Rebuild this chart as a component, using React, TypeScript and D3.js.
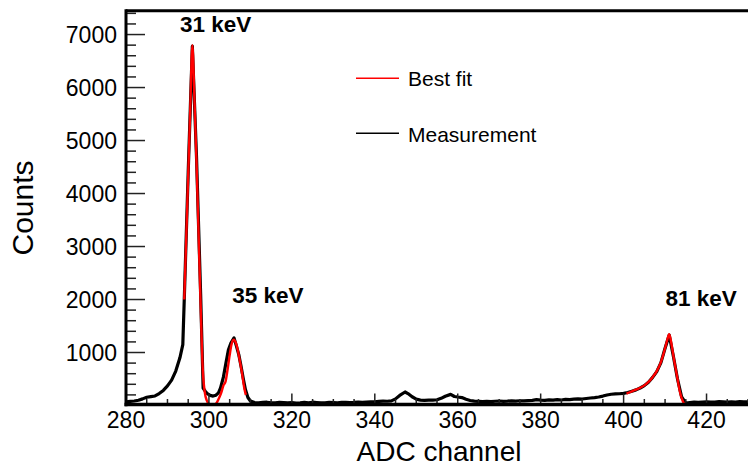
import React from "react";
import * as d3 from "d3";

const measChannels = [
  280, 281, 282, 283, 284, 285, 286, 287, 288, 289, 290, 291, 292, 293, 293.7, 294.05,
  295, 296, 297, 298, 298.6, 299.1, 299.6, 300.3, 301, 301.7, 302.3, 302.8, 303.5, 304.1,
  304.7, 305.3, 306.05, 306.6, 307.2, 307.7, 308.3, 308.8, 309.4, 310,
  311, 312, 313, 314, 315, 316, 317, 318, 319, 320, 321, 322, 323, 324, 325, 326, 327, 328,
  329, 330, 331, 332, 333, 334, 335, 336, 337, 338, 339, 340, 341, 342, 343, 344, 345, 346,
  347.3, 348, 349, 350, 351, 352, 353, 354, 355, 356, 357, 358.3, 359.2, 360, 361, 362, 363,
  364, 365, 366, 367, 368, 369, 370, 371, 372, 373, 374, 375, 376, 377, 378, 379, 380, 381,
  382, 383, 384, 385, 386, 387, 388, 389, 390, 391, 392, 393, 394, 395, 396, 397, 398, 399,
  400, 401, 402, 403, 404, 405, 406, 407, 408, 409, 410, 411, 412, 413, 414, 415, 416, 417,
  418, 419, 420, 421, 422, 423, 424, 425, 426, 427, 428, 429, 430,
];
const measCounts = [
  70, 78, 85, 100, 125, 155, 168, 180, 225, 285, 370, 480, 650, 900, 1150, 2000,
  4400, 6780, 4700, 2100, 330, 270, 225, 190, 178, 195, 240, 330, 540, 800,
  1050, 1180, 1275, 1130, 960, 760, 500, 300, 150, 85,
  55, 48, 58, 62, 52, 50, 58, 54, 48, 55, 46, 52, 60, 50, 62, 56, 48, 52,
  60, 56, 52, 58, 60, 56, 58, 62, 60, 66, 68, 70, 78, 82, 80, 88, 125, 190,
  255, 225, 165, 120, 102, 98, 100, 102, 108, 135, 175, 210, 170, 160, 150, 118, 95,
  82, 78, 75, 78, 72, 80, 85, 78, 82, 88, 84, 90, 86, 92, 96, 110, 100, 96,
  105, 100, 110, 104, 115, 112, 120, 126, 122, 132, 142, 150, 160, 178, 198, 212, 218, 222,
  230, 245, 270, 295, 330, 375, 440, 530, 640, 810, 1080, 1330, 930, 500, 160, 45, 55, 62,
  58, 65, 70, 62, 66, 72, 68, 64, 70, 66, 72, 68, 70,
];

const fitLowChannels = [
  294.05, 294.5, 295, 295.5, 296, 296.5, 297, 297.5, 298, 298.5, 299, 299.5, 300, 300.5, 301,
  301.5, 302, 302.5, 303, 303.5, 304, 304.5, 305, 305.5, 306, 306.5, 307, 307.5, 308, 308.5, 308.9,
];
const fitLowCounts = [
  2000, 3100, 4350, 5600, 6800, 5800, 4600, 3250, 1900, 700, 250, 90, 25, 3, 0,
  20, 70, 150, 250, 380, 450, 680, 950, 1170, 1240, 1180, 1030, 820, 600, 340, 200,
];
const fitHighChannels = [
  400.7, 401.5, 402, 403, 404, 405, 406, 407, 408, 409, 409.5, 410, 410.5, 411, 411.5, 412,
  412.5, 413, 413.5, 414, 414.5, 414.9,
];
const fitHighCounts = [
  225, 250, 268, 298, 335, 380, 445, 535, 650, 820, 940, 1080, 1230, 1345, 1180, 940,
  720, 500, 290, 140, 45, 0,
];

const xTickLabels = [280, 300, 320, 340, 360, 380, 400, 420];
const yTickLabels = [1000, 2000, 3000, 4000, 5000, 6000, 7000];
const peakLabels = ["31 keV", "35 keV", "81 keV"];
const peakLabelChannels = [301.6, 314.2, 418.7];
const peakLabelCounts = [7050, 1940, 1878];
const legendLabels = ["Best fit", "Measurement"];
const xTitle = "ADC channel";
const yTitle = "Counts";

const W = 748;
const H = 468;
const FONT = "'Liberation Sans', Arial, Helvetica, sans-serif";

export default function App() {
  const x = d3.scaleLinear().domain([280, 430]).range([126, 748]);
  const y = d3.scaleLinear().domain([0, 7450]).range([405.5, 10.7]);

  const meas = measChannels.map((c, i) => [c, measCounts[i]] as [number, number]);
  const fitLow = fitLowChannels.map((c, i) => [c, fitLowCounts[i]] as [number, number]);
  const fitHigh = fitHighChannels.map((c, i) => [c, fitHighCounts[i]] as [number, number]);

  const lineLin = d3
    .line<[number, number]>()
    .x((d) => x(d[0]))
    .y((d) => y(d[1]))
    .curve(d3.curveLinear);
  const lineSmooth = d3
    .line<[number, number]>()
    .x((d) => x(d[0]))
    .y((d) => y(d[1]))
    .curve(d3.curveMonotoneX);

  const xMinor = d3.range(280, 431, 5).filter((v) => v % 20 !== 0);
  const yMinor = d3.range(200, 7450, 200).filter((v) => v % 1000 !== 0);

  const axisLeft = x(280);
  const axisBottom = 404.5;

  return (
    <svg
      width={W}
      height={H}
      style={{ position: "absolute", left: 0, top: 0, background: "#fff" }}
      fontFamily={FONT}
    >
      <rect x={0} y={0} width={W} height={H} fill="#fff" />
      <clipPath id="plot">
        <rect x={axisLeft} y={y(7450)} width={W - axisLeft} height={axisBottom - y(7450)} />
      </clipPath>

      <g clipPath="url(#plot)">
        <path d={lineLin(meas) || ""} fill="none" stroke="#000" strokeWidth={3.2} strokeLinejoin="round" />
        <path d={lineSmooth(fitLow) || ""} fill="none" stroke="#ff0000" strokeWidth={2.4} />
        <path d={lineSmooth(fitHigh) || ""} fill="none" stroke="#ff0000" strokeWidth={2.4} />
      </g>

      {/* ticks */}
      {xTickLabels.map((v) => (
        <line key={"xM" + v} x1={x(v)} x2={x(v)} y1={axisBottom} y2={axisBottom - 11} stroke="#222" strokeWidth={1.5} />
      ))}
      {xMinor.map((v) => (
        <line key={"xm" + v} x1={x(v)} x2={x(v)} y1={axisBottom} y2={axisBottom - 5.5} stroke="#222" strokeWidth={1.5} />
      ))}
      {yTickLabels.map((v) => (
        <line key={"yM" + v} x1={axisLeft} x2={axisLeft + 19} y1={y(v)} y2={y(v)} stroke="#222" strokeWidth={1.5} />
      ))}
      {yMinor.map((v) => (
        <line key={"ym" + v} x1={axisLeft} x2={axisLeft + 10} y1={y(v)} y2={y(v)} stroke="#222" strokeWidth={1.5} />
      ))}

      {/* frame */}
      <line x1={axisLeft} x2={W} y1={10.7} y2={10.7} stroke="#000" strokeWidth={3} />
      <line x1={axisLeft} x2={axisLeft} y1={9.2} y2={406.3} stroke="#000" strokeWidth={3} />
      <line x1={axisLeft - 1.5} x2={W} y1={axisBottom} y2={axisBottom} stroke="#000" strokeWidth={3.6} />

      {/* tick labels */}
      {xTickLabels.map((v) => (
        <text key={"xl" + v} x={x(v)} y={428} textAnchor="middle" fontSize={23} fill="#000">
          {v}
        </text>
      ))}
      {yTickLabels.map((v) => (
        <text key={"yl" + v} x={117} y={y(v) + 8.3} textAnchor="end" fontSize={23} fill="#000">
          {v}
        </text>
      ))}

      {/* axis titles */}
      <text x={439} y={461} textAnchor="middle" fontSize={28} fill="#000">
        {xTitle}
      </text>
      <text transform={`translate(33,208) rotate(-90)`} textAnchor="middle" fontSize={30} fill="#000">
        {yTitle}
      </text>

      {/* peak labels */}
      {peakLabels.map((t, i) => (
        <text
          key={t}
          x={x(peakLabelChannels[i])}
          y={y(peakLabelCounts[i])}
          textAnchor="middle"
          fontSize={22.5}
          fontWeight="bold"
          fill="#000"
        >
          {t}
        </text>
      ))}

      {/* legend */}
      <line x1={356} x2={399} y1={78.3} y2={78.3} stroke="#ff0000" strokeWidth={1.5} />
      <text x={408} y={86} fontSize={21} fill="#000">
        {legendLabels[0]}
      </text>
      <line x1={356} x2={399} y1={133.3} y2={133.3} stroke="#000" strokeWidth={1.5} />
      <text x={408} y={141.5} fontSize={21} fill="#000">
        {legendLabels[1]}
      </text>
    </svg>
  );
}
